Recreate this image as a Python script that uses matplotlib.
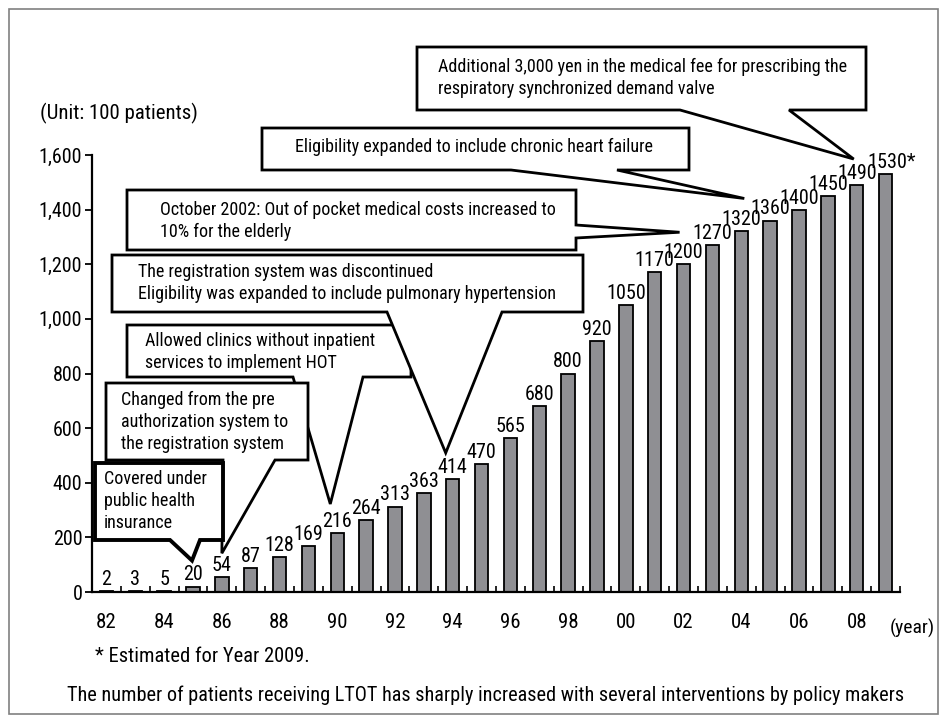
import matplotlib
matplotlib.use("Agg")
import matplotlib.pyplot as plt
from matplotlib import font_manager as fm
from matplotlib.patches import Polygon, Rectangle
from matplotlib.transforms import Affine2D

# narrow sans face, first one that is installed
installed = {f.name for f in fm.fontManager.ttflist}
narrow = [n for n in ['Arial Narrow', 'Liberation Sans Narrow', 'Roboto Condensed',
                      'PT Sans Narrow', 'Archivo Narrow', 'IBM Plex Sans Condensed',
                      'Fira Sans Condensed', 'Barlow Condensed'] if n in installed]
plt.rcParams['font.family'] = narrow[:1] + ['DejaVu Sans']

# data (unit: 100 patients)
years = list(range(1982, 2010))
patients = [2, 3, 5, 20, 54, 87, 128, 169, 216, 264, 313, 363, 414, 470,
            565, 680, 800, 920, 1050, 1170, 1200, 1270, 1320, 1360, 1400,
            1450, 1490, 1530]
value_labels = [str(v) for v in patients]
value_labels[-1] = "1530*"
tick_years = [f"{y % 100:02d}" for y in years]

# policy events: text and the year the pointer goes to
events = [
    (["Allowed clinics without inpatient", "services to implement HOT"], 1990),
    (["The registration system was discontinued",
      "Eligibility was expanded to include pulmonary hypertension"], 1994),
    (["October 2002: Out of pocket medical costs increased to",
      "10% for the elderly"], 2002),
    (["Eligibility expanded to include chronic heart failure"], 2004),
    (["Additional 3,000 yen in the medical fee for prescribing the",
      "respiratory synchronized demand valve"], 2008),
    (["Changed from the pre", "authorization system to",
      "the registration system"], 1986),
    (["Covered under", "public health", "insurance"], 1985),
]

W, H = 948, 722
fig = plt.figure(figsize=(W / 100, H / 100), dpi=100)
ax = fig.add_axes([92 / W, 1 - 592 / H, (900 - 92) / W, (592 - 155) / H])

x = list(range(len(years)))
ax.bar(x, patients, width=0.47, color='#8f8f93', edgecolor='black', linewidth=1.3, zorder=2)
for xi, v, lab in zip(x, patients, value_labels):
    off = 4 if lab.endswith('*') else 0
    ax.annotate(lab, (xi, v), xytext=(off, 1.5), textcoords='offset points',
                ha='center', va='bottom', fontsize=14.5)

ax.set_xlim(-0.5, len(years) - 0.5)
ax.set_ylim(0, 1600)
ax.set_yticks(range(0, 1601, 200))
ax.set_yticklabels([f"{t:,}" for t in range(0, 1601, 200)], fontsize=14.5)
ax.set_xticks(x[::2])
ax.set_xticklabels(tick_years[::2], fontsize=15)
ax.set_xticks([i + 0.5 for i in x], minor=True)
ax.tick_params(axis='x', which='major', length=0, pad=15)
ax.tick_params(axis='x', which='minor', direction='in', length=4, width=1.2)
ax.tick_params(axis='y', direction='out', length=5, width=1.3, pad=2)
for s in ['top', 'right']:
    ax.spines[s].set_visible(False)
for s in ['left', 'bottom']:
    ax.spines[s].set_linewidth(1.6)

# pixel frame (origin top-left, like the image)
px = Affine2D().scale(1 / W, -1 / H).translate(0, 1) + fig.transFigure


def to_px(xd, yd):
    d = ax.transData.transform((xd, yd))
    return d[0], H - d[1]


# box layouts in image pixels: (left, right, top, bottom), side, tail base, tip shift, text left, first line y, lw
layouts = {
    1990: ((127, 411, 325, 377), 'bottom', (293, 363), (-7, 29), 145, 341, 2.0),
    1994: ((112, 583, 255, 312), 'bottom', (387, 502), (-7, 26), 138, 272, 2.0),
    2002: ((127, 576, 190, 250), 'right', (225, 238), (-4, 32), 160, 210, 2.0),
    2004: ((262, 689, 128, 170), 'bottom', (511, 617), (3, 33), 295, 147, 2.0),
    2008: ((417, 866, 47, 110), 'bottom', (680, 789), (-3, 26), 438, 67, 2.0),
    1986: ((106, 308, 383, 460), 'bottom', (223, 275), (0, 24), 121, 400, 2.0),
    1985: ((95, 223, 463, 540), 'bottom', (170, 200), (-1, 26), 104, 479, 2.8),
}

for lines, yr in events:
    (l, r, t, b), side, base, shift, tx, ty, lw = layouts[yr]
    i = years.index(yr)
    bx, by = to_px(i, patients[i])
    tip = (bx + shift[0], by - shift[1])
    if side == 'bottom':
        verts = [(l, b), (base[0], b), tip, (base[1], b), (r, b), (r, t), (l, t)]
    else:
        verts = [(r, b), (r, base[1]), tip, (r, base[0]), (r, t), (l, t), (l, b)]
    fig.patches.append(Polygon(verts, closed=True, facecolor='white', edgecolor='black',
                               linewidth=lw, transform=px, zorder=5))
    for k, line in enumerate(lines):
        fig.text(tx, ty + 22 * k, line, transform=px, ha='left', va='center',
                 fontsize=13, zorder=6)

fig.text(40, 113, "(Unit: 100 patients)", transform=px, ha='left', va='center', fontsize=15)
fig.text(890, 628, "(year)", transform=px, ha='left', va='center', fontsize=14)
fig.text(95, 657, "* Estimated for Year 2009.", transform=px, ha='left', va='center', fontsize=14.8)
fig.text(486, 695,
         "The number of patients receiving LTOT has sharply increased with several interventions by policy makers",
         transform=px, ha='center', va='center', fontsize=14.6)

fig.patches.append(Rectangle((9, 9), W - 19, H - 17, transform=px, fill=False,
                             edgecolor='#808080', linewidth=1.2))

fig.savefig("out.png", dpi=100)
